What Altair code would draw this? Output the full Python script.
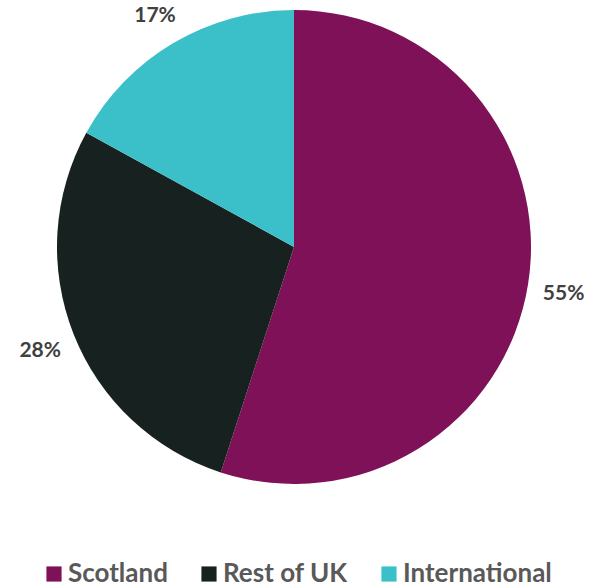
import altair as alt
import pandas as pd

categories = ["Scotland", "Rest of UK", "International"]
shares = [55, 28, 17]
labels = ["55%", "28%", "17%"]
colors = ["#7F1158", "#17211F", "#3BBFC9"]

df = pd.DataFrame({"region": categories, "share": shares, "label": labels, "order": [0, 1, 2]})

base = alt.Chart(df).encode(
    theta=alt.Theta("share:Q", stack=True),
    order=alt.Order("order:Q"),
)

pie = base.mark_arc(radius=237, stroke=None).encode(
    x=alt.value(294),
    y=alt.value(247),
    color=alt.Color(
        "region:N",
        scale=alt.Scale(domain=categories, range=colors),
        sort=categories,
        legend=alt.Legend(
            title=None,
            orient="none",
            legendX=41,
            legendY=561,
            direction="horizontal",
            symbolType="square",
            symbolSize=230,
            symbolStrokeWidth=0,
            labelFont="Lato",
            labelFontSize=26,
            labelFontWeight="bold",
            labelColor="#595959",
            labelOffset=1,
            columnPadding=28,
        ),
    ),
)

text = base.mark_text(
    radius=273, dy=4, font="Lato", fontSize=21, fontWeight="bold", color="#404040"
).encode(
    x=alt.value(294),
    y=alt.value(247),
    text="label:N",
)

chart = (
    alt.layer(pie, text)
    .properties(width=590, height=587, padding=0, autosize=alt.AutoSizeParams(type="none"))
    .configure_view(stroke=None)
)

chart.save("out.html", embed_options={"renderer": "svg", "actions": False})
